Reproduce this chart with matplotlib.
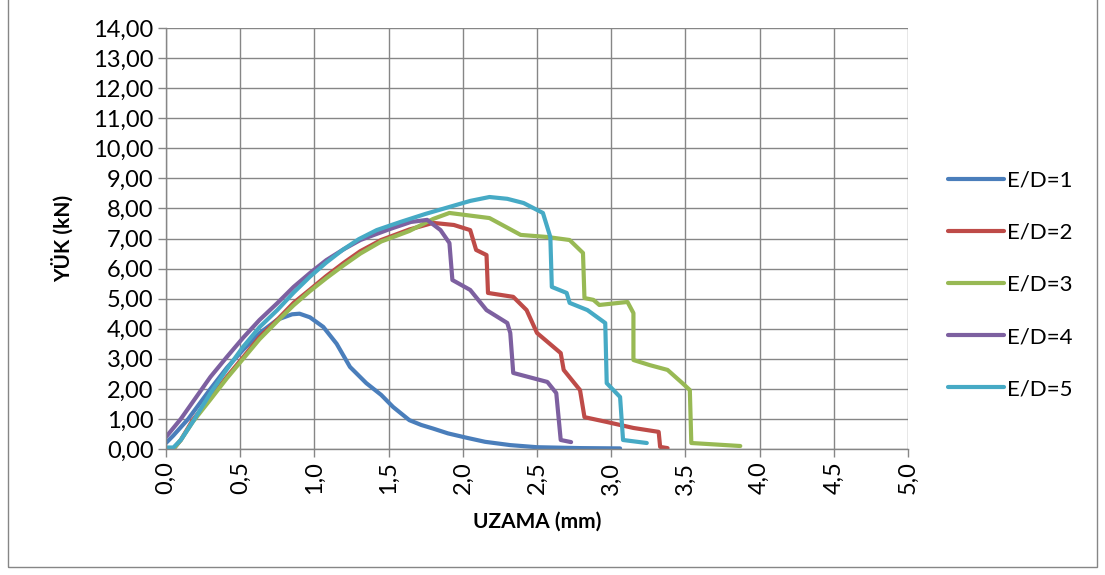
import matplotlib.pyplot as plt
from matplotlib.patches import Rectangle
from matplotlib.ticker import FuncFormatter, MultipleLocator

plt.rcParams['font.family'] = ['Lato', 'DejaVu Sans']

# uzama (mm) / yuk (kN) okumalari
x1 = [0.0, 0.05, 0.15, 0.3, 0.41, 0.52, 0.63, 0.75, 0.85, 0.9, 0.97, 1.06, 1.15, 1.24, 1.35, 1.45, 1.53,
      1.64, 1.72, 1.8, 1.9, 2.03, 2.15, 2.32, 2.5, 2.8, 3.06]
y1 = [0.2, 0.45, 1.0, 2.0, 2.7, 3.3, 3.85, 4.3, 4.48, 4.5, 4.38, 4.06, 3.5, 2.73, 2.19, 1.8, 1.4,
      0.96, 0.8, 0.68, 0.52, 0.37, 0.24, 0.13, 0.06, 0.03, 0.02]

x2 = [0.05, 0.1, 0.18, 0.3, 0.41, 0.52, 0.63, 0.75, 0.86, 0.97, 1.08, 1.2, 1.31, 1.45, 1.64, 1.8, 1.94,
      2.05, 2.09, 2.16, 2.17, 2.34, 2.43, 2.5, 2.66, 2.68, 2.79, 2.82, 2.97, 3.15, 3.32, 3.33, 3.38]
y2 = [0.0, 0.3, 0.96, 1.7, 2.4, 3.05, 3.72, 4.3, 4.86, 5.3, 5.75, 6.2, 6.58, 6.95, 7.3, 7.52, 7.45,
      7.28, 6.62, 6.45, 5.19, 5.06, 4.62, 3.86, 3.19, 2.63, 1.96, 1.06, 0.9, 0.7, 0.57, 0.07, 0.03]

x3 = [0.05, 0.1, 0.18, 0.3, 0.41, 0.52, 0.63, 0.75, 0.86, 0.97, 1.08, 1.2, 1.31, 1.45, 1.64, 1.8, 1.91,
      2.18, 2.39, 2.57, 2.72, 2.81, 2.82, 2.88, 2.92, 3.11, 3.15, 3.15, 3.26, 3.38, 3.48, 3.53, 3.54, 3.87]
y3 = [0.0, 0.3, 0.9, 1.65, 2.35, 3.0, 3.65, 4.25, 4.78, 5.25, 5.68, 6.12, 6.5, 6.9, 7.25, 7.65, 7.85,
      7.68, 7.12, 7.05, 6.95, 6.52, 5.02, 4.96, 4.79, 4.89, 4.52, 2.96, 2.79, 2.63, 2.19, 1.96, 0.2, 0.1]

x4 = [0.0, 0.1, 0.2, 0.3, 0.41, 0.52, 0.63, 0.75, 0.86, 0.97, 1.08, 1.2, 1.31, 1.5, 1.65, 1.76, 1.85,
      1.91, 1.93, 2.05, 2.16, 2.3, 2.32, 2.34, 2.57, 2.63, 2.66, 2.73]
y4 = [0.4, 1.0, 1.7, 2.4, 3.06, 3.7, 4.29, 4.85, 5.39, 5.85, 6.28, 6.65, 6.95, 7.3, 7.55, 7.62, 7.28,
      6.85, 5.62, 5.29, 4.62, 4.19, 3.86, 2.53, 2.23, 1.86, 0.3, 0.23]

x5 = [0.0, 0.05, 0.1, 0.18, 0.3, 0.41, 0.52, 0.63, 0.75, 0.86, 0.97, 1.08, 1.19, 1.3, 1.42, 1.58, 1.75,
      1.91, 2.05, 2.18, 2.3, 2.41, 2.54, 2.59, 2.6, 2.7, 2.72, 2.84, 2.96, 2.97, 3.06, 3.08, 3.24]
y5 = [0.05, 0.05, 0.3, 0.9, 1.86, 2.65, 3.4, 4.05, 4.62, 5.2, 5.73, 6.2, 6.62, 6.98, 7.28, 7.55, 7.82,
      8.05, 8.25, 8.38, 8.32, 8.18, 7.85, 7.05, 5.39, 5.19, 4.86, 4.62, 4.19, 2.19, 1.73, 0.3, 0.2]

labels = ['E/D=1', 'E/D=2', 'E/D=3', 'E/D=4', 'E/D=5']
colors = ['#4A7EBB', '#BE4B48', '#98B954', '#7D60A0', '#46AAC5']

fig = plt.figure(figsize=(11.05, 5.75), dpi=100)
ax = fig.add_axes([0.1502, 0.2191, 0.6715, 0.7322])

for xs, ys, lab, c in zip([x1, x2, x3, x4, x5], [y1, y2, y3, y4, y5], labels, colors):
    ax.plot(xs, ys, color=c, lw=3, label=lab, solid_capstyle='round', solid_joinstyle='round')

ax.set_xlim(0, 5)
ax.set_ylim(0, 14)
ax.xaxis.set_major_locator(MultipleLocator(0.5))
ax.yaxis.set_major_locator(MultipleLocator(1))
ax.xaxis.set_major_formatter(FuncFormatter(lambda v, p: f'{v:.1f}'.replace('.', ',')))
ax.yaxis.set_major_formatter(FuncFormatter(lambda v, p: f'{v:.2f}'.replace('.', ',')))
ax.grid(True, color='#868686', lw=1)
ax.set_axisbelow(True)
for s in ['top', 'right']:
    ax.spines[s].set_visible(False)
for s in ['left', 'bottom']:
    ax.spines[s].set_color('#868686')
    ax.spines[s].set_linewidth(1)
ax.tick_params(axis='both', colors='#868686', labelcolor='black', labelsize=17, length=6, width=1, pad=3)
plt.setp(ax.get_xticklabels(), rotation=90)

ax.set_xlabel('UZAMA (mm)', fontsize=15, fontweight='bold', labelpad=12)
ax.set_ylabel('YÜK (kN)', fontsize=15, fontweight='bold', labelpad=14)

ax.legend(loc='center left', bbox_to_anchor=(1.054, 0.39), frameon=False, fontsize=16,
          handlelength=2.5, handletextpad=0.15, labelspacing=1.45, borderaxespad=0, borderpad=0)

fig.patches.append(Rectangle((0.0075, 0.014), 0.985, 1.0, transform=fig.transFigure,
                             fill=False, edgecolor='#868686', lw=1))

fig.savefig('out.png', dpi=100)
